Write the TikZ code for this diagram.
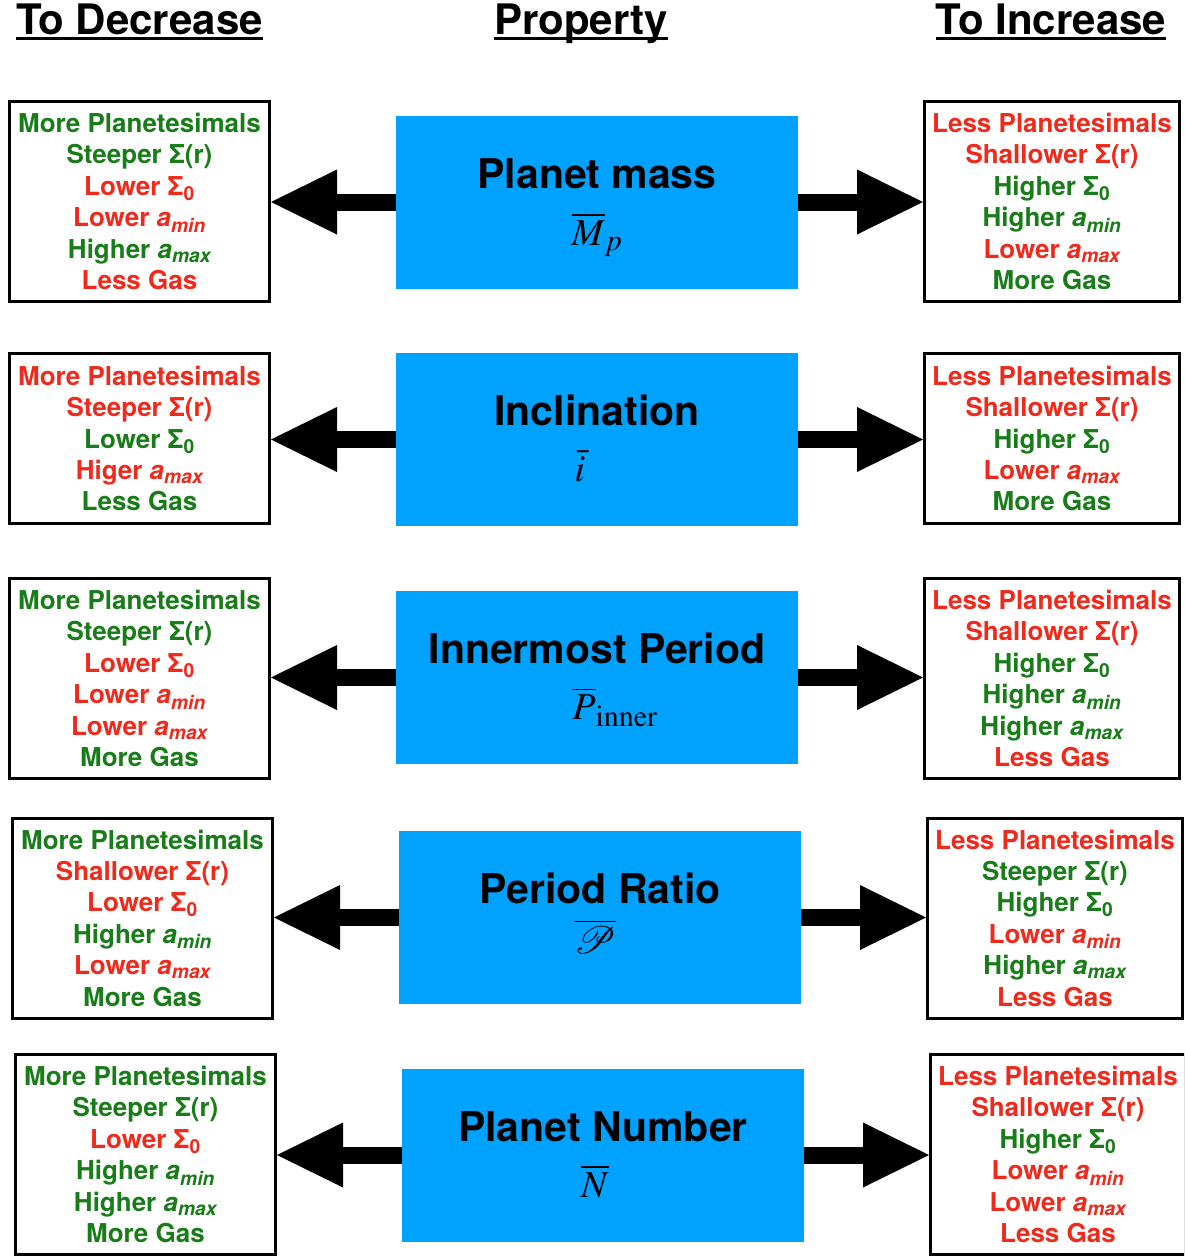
\documentclass[tikz,border=0pt]{standalone}
\usepackage{mathptmx}
\usepackage{mathrsfs}
\usepackage[no-math]{fontspec}
\newfontfamily\heros{TeX Gyre Heros}
\usetikzlibrary{arrows.meta,positioning}
\definecolor{PropBlue}{HTML}{00A2FF}
\definecolor{TrendGreen}{HTML}{187D18}
\definecolor{TrendRed}{HTML}{EE2A1C}
\DeclareMathSizes{38}{38}{30}{23}
\DeclareFontFamily{U}{rsfs}{\skewchar\font127 }
\DeclareFontShape{U}{rsfs}{m}{n}{<-> rsfs10}{}
\newcommand{\gline}[1]{\textcolor{TrendGreen}{#1}}
\newcommand{\rline}[1]{\textcolor{TrendRed}{#1}}
\newcommand{\amin}{{\itshape a\textsubscript{min}}}
\newcommand{\amax}{{\itshape a\textsubscript{max}}}
\newcommand{\sigzero}{Σ\textsubscript{0}}
\tikzset{
  headtext/.style={inner sep=0pt,anchor=base,font=\heros\bfseries\fontsize{42}{50}\selectfont},
  headline/.style={line width=3pt,draw=black},
  trendbox/.style={draw=black,line width=3pt,align=center,minimum width=260pt,minimum height=200pt,inner sep=0pt,font=\heros\bfseries\fontsize{26}{31.4}\selectfont,fill=white},
  propbox/.style={fill=PropBlue,minimum width=402pt,minimum height=173pt,inner sep=0pt},
  proptitle/.style={anchor=base,inner sep=0pt,font=\heros\bfseries\fontsize{41}{49}\selectfont},
  propsym/.style={anchor=base,inner sep=0pt,font=\fontsize{38}{44}\selectfont},
  bigarrow/.style={-{Triangle[length=66pt,width=65pt,line width=0pt]},line width=17pt,draw=black}
}
\begin{document}
\begin{tikzpicture}[x=1pt,y=-1pt]
\clip (0,0) rectangle (1184,1258);
% column headings
\node[headtext] (hdec) at (139.5,34) {To Decrease};
\node[headtext] (hprop) at (581,34) {Property};
\node[headtext] (hinc) at (1051,34) {To Increase};
\draw[headline] ([yshift=-4pt]hdec.base west) -- ([yshift=-4pt]hdec.base east);
\draw[headline] ([yshift=-4pt]hprop.base west) -- ([yshift=-4pt]hprop.base east);
\draw[headline] ([yshift=-4pt]hinc.base west) -- ([yshift=-4pt]hinc.base east);

% planet mass
\node[propbox] (massprop) at (597,202) {};
\node[proptitle] (masstitle) at ([yshift=14pt]massprop.center) {Planet mass};
\node[propsym] (masssym) at ([yshift=-43pt]massprop.center) {$\overline{M}_p$};
\node[trendbox] (massdec) at (139.5,201.5) {\gline{More Planetesimals}\\ \gline{Steeper Σ(r)}\\ \rline{Lower \sigzero}\\ \rline{Lower \amin}\\ \gline{Higher \amax}\\ \rline{Less Gas}};
\node[trendbox,minimum width=255pt] (massinc) at (1052,201.5) {\rline{Less Planetesimals}\\ \rline{Shallower Σ(r)}\\ \gline{Higher \sigzero}\\ \gline{Higher \amin}\\ \rline{Lower \amax}\\ \gline{More Gas}};
\draw[bigarrow] (massprop.west) -- (massdec.east |- massprop.west);
\draw[bigarrow] (massprop.east) -- (massinc.west |- massprop.east);

% inclination
\node[propbox] (incprop) at (597,439.5) {};
\node[proptitle] (inctitle) at ([yshift=14pt]incprop.center) {Inclination};
\node[propsym] (incsym) at ([xshift=-17pt,yshift=-42pt]incprop.center) {$\bar{i}$};
\node[trendbox,minimum height=170pt] (incdec) at (139.5,438.5) {\rline{More Planetesimals}\\ \rline{Steeper Σ(r)}\\ \gline{Lower \sigzero}\\ \rline{Higer \amax}\\ \gline{Less Gas}};
\node[trendbox,minimum width=255pt,minimum height=170pt] (incinc) at (1052,438.5) {\rline{Less Planetesimals}\\ \rline{Shallower Σ(r)}\\ \gline{Higher \sigzero}\\ \rline{Lower \amax}\\ \gline{More Gas}};
\draw[bigarrow] (incprop.west) -- (incdec.east |- incprop.west);
\draw[bigarrow] (incprop.east) -- (incinc.west |- incprop.east);

% innermost period
\node[propbox] (innerprop) at (597,677.5) {};
\node[proptitle] (innertitle) at ([yshift=14pt]innerprop.center) {Innermost Period};
\node[propsym] (innersym) at ([xshift=18pt,yshift=-42pt]innerprop.center) {$\overline{P}_{\mathrm{inner}}$};
\node[trendbox] (innerdec) at (139.5,678.5) {\gline{More Planetesimals}\\ \gline{Steeper Σ(r)}\\ \rline{Lower \sigzero}\\ \rline{Lower \amin}\\ \rline{Lower \amax}\\ \gline{More Gas}};
\node[trendbox,minimum width=255pt] (innerinc) at (1052,678.5) {\rline{Less Planetesimals}\\ \rline{Shallower Σ(r)}\\ \gline{Higher \sigzero}\\ \gline{Higher \amin}\\ \gline{Higher \amax}\\ \rline{Less Gas}};
\draw[bigarrow] (innerprop.west) -- (innerdec.east |- innerprop.west);
\draw[bigarrow] (innerprop.east) -- (innerinc.west |- innerprop.east);

% period ratio
\node[propbox] (ratioprop) at (600,917.5) {};
\node[proptitle] (ratiotitle) at ([yshift=14pt]ratioprop.center) {Period Ratio};
\node[propsym] (ratiosym) at ([xshift=-5pt,yshift=-36pt]ratioprop.center) {$\overline{\mathscr{P}}$};
\node[trendbox] (ratiodec) at (142.5,918) {\gline{More Planetesimals}\\ \rline{Shallower Σ(r)}\\ \rline{Lower \sigzero}\\ \gline{Higher \amin}\\ \rline{Lower \amax}\\ \gline{More Gas}};
\node[trendbox,minimum width=255pt] (ratioinc) at (1055,918) {\rline{Less Planetesimals}\\ \gline{Steeper Σ(r)}\\ \gline{Higher \sigzero}\\ \rline{Lower \amin}\\ \gline{Higher \amax}\\ \rline{Less Gas}};
\draw[bigarrow] (ratioprop.west) -- (ratiodec.east |- ratioprop.west);
\draw[bigarrow] (ratioprop.east) -- (ratioinc.west |- ratioprop.east);

% planet number
\node[propbox] (numprop) at (603,1155) {};
\node[proptitle] (numtitle) at ([yshift=14pt]numprop.center) {Planet Number};
\node[propsym] (numsym) at ([xshift=-8pt,yshift=-42pt]numprop.center) {$\overline{N}$};
\node[trendbox] (numdec) at (145.5,1154.5) {\gline{More Planetesimals}\\ \gline{Steeper Σ(r)}\\ \rline{Lower \sigzero}\\ \gline{Higher \amin}\\ \gline{Higher \amax}\\ \gline{More Gas}};
\node[trendbox,minimum width=255pt] (numinc) at (1058,1154.5) {\rline{Less Planetesimals}\\ \rline{Shallower Σ(r)}\\ \gline{Higher \sigzero}\\ \rline{Lower \amin}\\ \rline{Lower \amax}\\ \rline{Less Gas}};
\draw[bigarrow] (numprop.west) -- (numdec.east |- numprop.west);
\draw[bigarrow] (numprop.east) -- (numinc.west |- numprop.east);
\end{tikzpicture}
\end{document}
